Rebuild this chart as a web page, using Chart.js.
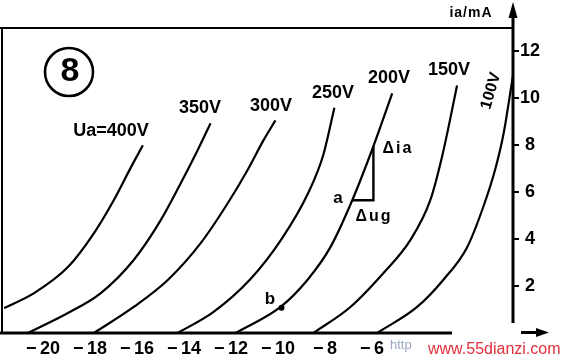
<!DOCTYPE html>
<html><head><meta charset="utf-8">
<script src="https://cdn.jsdelivr.net/npm/chart.js@4/dist/chart.umd.min.js"></script>
<style>html,body{margin:0;padding:0;background:#fff;overflow:hidden}canvas{display:block}</style>
</head><body>
<canvas id="c" width="562" height="361"></canvas>
<script>
// ---- data (grid voltage ug in V, anode current ia in mA) ----
const curveNames = ['Ua=400V', '350V', '300V', '250V', '200V', '150V', '100V'];
const ug400 = [-21.66, -20.38, -18.94, -17.83, -16.99, -16.26, -15.75];
const ia400 = [1.06, 1.70, 2.81, 4.26, 5.66, 7.06, 8.0];
const ug350 = [-20.64, -18.94, -17.54, -16.14, -14.99, -14.14, -13.42, -12.87];
const ia350 = [0, 0.85, 1.70, 3.11, 4.81, 6.38, 7.79, 8.94];
const ug300 = [-17.83, -16.14, -14.69, -13.29, -12.14, -11.3, -10.62, -10.11];
const ia300 = [0, 1.11, 2.26, 3.83, 5.53, 6.94, 8.21, 9.06];
const ug250 = [-14.27, -12.74, -11.17, -9.85, -8.7, -8.07, -7.6];
const ia250 = [0, 0.9, 2.3, 4.0, 6.0, 7.6, 9.6];
const ug200 = [-11.8, -9.89, -8.75, -7.77, -6.84, -5.94, -5.14];
const ia200 = [0, 1.11, 2.26, 3.66, 5.66, 7.96, 10.21];
const ug150 = [-8.49, -6.92, -5.52, -4.37, -3.52, -3.0, -2.38];
const ia150 = [0, 1.11, 2.55, 3.96, 5.66, 7.6, 10.55];
const ug100 = [-5.78, -4.08, -2.97, -1.95, -1.27, -0.75, -0.4, 0];
const ia100 = [0, 1.11, 2.26, 3.66, 5.36, 7.0, 8.5, 10.98];
// slope triangle at point a (Δug, Δia) and point b
const triUg = [-6.84, -5.94, -5.94];
const triIa = [5.66, 5.66, 7.96];
const pointBUg = [-9.85];
const pointBIa = [1.08];
// axes
const xMin = -21.66, xMax = 0, yMin = 0, yMax = 13;
const xTickValues = [-20, -18, -16, -14, -12, -10, -8, -6];
const yTickValues = [2, 4, 6, 8, 10, 12];

const FONT = '"Liberation Sans", Arial, sans-serif';
const pts = (xs, ys) => xs.map((x, i) => ({x, y: ys[i]}));
const curves = [[ug400, ia400], [ug350, ia350], [ug300, ia300], [ug250, ia250], [ug200, ia200], [ug150, ia150], [ug100, ia100]];

const datasets = curves.map((c, i) => ({
  label: curveNames[i], data: pts(c[0], c[1]), showLine: true,
  borderColor: '#000', borderWidth: 2.2, pointRadius: 0, fill: false,
  cubicInterpolationMode: 'monotone'
}));
datasets.push({label: 'triangle', data: pts(triUg, triIa), showLine: true,
  borderColor: '#000', borderWidth: 2.4, pointRadius: 0, tension: 0});
datasets.push({label: 'b', data: pts(pointBUg, pointBIa), showLine: false,
  pointRadius: 3, pointBackgroundColor: '#000', pointBorderWidth: 0});

const deco = {
  id: 'deco',
  afterDraw(chart) {
    const ctx = chart.ctx;
    const a = chart.chartArea;
    ctx.save();
    ctx.strokeStyle = '#000'; ctx.fillStyle = '#000';
    const ln = (x1, y1, x2, y2, w) => { ctx.lineWidth = w; ctx.beginPath(); ctx.moveTo(x1, y1); ctx.lineTo(x2, y2); ctx.stroke(); };
    // frame
    ln(0, a.top, a.right, a.top, 2);
    ln(2, a.top - 1, 2, a.bottom + 1, 2);
    // bottom axis and arrow
    ln(0, a.bottom, 452, a.bottom, 3);
    ln(521, a.bottom - 0.5, 538, a.bottom - 0.5, 3);
    ctx.beginPath(); ctx.moveTo(549, a.bottom - 0.5); ctx.lineTo(536, a.bottom - 5); ctx.lineTo(536, a.bottom + 4); ctx.closePath(); ctx.fill();
    // vertical axis with arrow
    ln(a.right, 14, a.right, 323, 3);
    ctx.beginPath(); ctx.moveTo(a.right, 2); ctx.lineTo(a.right - 4.5, 18); ctx.lineTo(a.right + 4.5, 18); ctx.closePath(); ctx.fill();
    // axis title
    ctx.textAlign = 'center'; ctx.textBaseline = 'middle';
    ctx.font = 'bold 14px ' + FONT;
    ctx.letterSpacing = '1px';
    ctx.fillText('ia/mA', 471, 13);
    ctx.letterSpacing = '0px';
    // circled 8
    ctx.lineWidth = 2.6; ctx.beginPath(); ctx.arc(69, 72, 24, 0, Math.PI * 2); ctx.stroke();
    ctx.font = 'bold 34px ' + FONT;
    ctx.fillText('8', 70, 72);
    // curve labels
    ctx.font = 'bold 18px ' + FONT;
    const labelPos = [[111, 131], [200, 108], [271, 106], [333, 93], [389, 78], [449, 70]];
    labelPos.forEach((p, i) => ctx.fillText(curveNames[i], p[0], p[1]));
    ctx.save();
    ctx.translate(491, 91); ctx.rotate(-74 * Math.PI / 180);
    ctx.font = 'bold 16px ' + FONT;
    ctx.fillText(curveNames[6], 0, 0);
    ctx.restore();
    // triangle annotations
    ctx.font = 'bold 16px ' + FONT;
    ctx.letterSpacing = '2px';
    ctx.fillText('\u0394ia', 398, 149);
    ctx.fillText('\u0394ug', 374, 217);
    ctx.letterSpacing = '0px';
    ctx.font = 'bold 17px ' + FONT;
    ctx.fillText('a', 338, 198);
    ctx.fillText('b', 270, 299);
    // watermark
    ctx.textAlign = 'left';
    ctx.font = '13px ' + FONT; ctx.fillStyle = '#9aa6c4';
    ctx.fillText('http', 390, 345);
    ctx.font = '16px ' + FONT; ctx.fillStyle = '#e0303c';
    ctx.fillText('www.55dianzi.com', 428, 350);
    ctx.restore();
  }
};

new Chart(document.getElementById('c'), {
  type: 'scatter',
  data: {datasets},
  options: {
    responsive: false, animation: false, devicePixelRatio: 1,
    layout: {padding: {left: 3, top: 28, right: 0, bottom: 0}},
    plugins: {legend: {display: false}, tooltip: {enabled: false}},
    scales: {
      x: {
        type: 'linear', min: xMin, max: xMax, position: 'bottom',
        grid: {display: false, drawTicks: false}, border: {display: false},
        ticks: {font: {family: FONT, size: 18, weight: 'bold'}, color: '#000', padding: 5,
          maxRotation: 0, autoSkip: false, callback: v => '\u2212\u2009' + Math.abs(v)},
        afterBuildTicks: s => { s.ticks = xTickValues.map(v => ({value: v})); },
        afterFit: s => { s.height = 28; }
      },
      y: {
        type: 'linear', min: yMin, max: yMax, position: 'right',
        grid: {display: true, drawOnChartArea: false, drawTicks: true, tickLength: 6, color: '#000', lineWidth: 2},
        border: {display: false},
        ticks: {font: {family: FONT, size: 18, weight: 'bold'}, color: '#000', padding: 1,
          crossAlign: 'center', autoSkip: false, callback: v => String(v)},
        afterBuildTicks: s => { s.ticks = yTickValues.map(v => ({value: v})); },
        afterFit: s => { s.width = 49; }
      }
    }
  },
  plugins: [deco]
});
</script>
</body></html>
